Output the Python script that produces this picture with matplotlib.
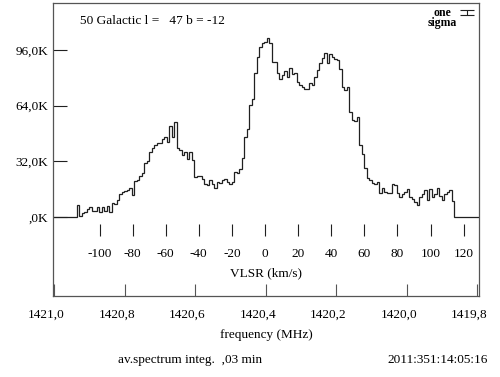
import numpy as np
import matplotlib
matplotlib.use('Agg')
import matplotlib.pyplot as plt
import matplotlib.transforms as mtransforms

plt.rcParams['font.family'] = ['Liberation Serif', 'DejaVu Serif']
plt.rcParams['axes.unicode_minus'] = False

# spectrum: brightness temperature (K) per channel, first channel at v_start
v_start = -113.8
chan_width = 1.51
temps = [6.5, 0.5, 2.0, 2.9, 4.4, 5.8, 3.3, 3.3, 5.8, 2.9,
         5.8, 3.2, 6.3, 2.9, 8.1, 7.2, 9.8, 13.0, 14.4, 15.0,
         15.4, 16.5, 12.5, 20.5, 21.1, 23.4, 25.0, 30.7, 32.3, 37.4,
         39.3, 41.3, 42.5, 42.5, 45.0, 46.0, 43.0, 52.2, 46.0, 54.7,
         39.4, 38.6, 35.8, 37.4, 33.0, 37.2, 32.6, 23.0, 23.2, 23.4,
         21.7, 18.8, 18.5, 21.1, 18.8, 16.3, 20.0, 19.2, 21.0, 22.0,
         20.0, 18.8, 20.0, 25.9, 25.0, 27.7, 33.6, 46.0, 50.7, 64.3,
         68.0, 82.5, 92.0, 97.8, 100.2, 100.5, 102.7, 100.0, 88.8, 88.8,
         82.5, 79.0, 81.6, 84.0, 80.6, 85.4, 82.0, 82.5, 77.7, 75.8,
         74.5, 73.3, 73.3, 76.8, 75.8, 80.6, 84.4, 88.6, 91.1, 94.0,
         88.2, 93.6, 91.7, 90.6, 90.0, 85.0, 74.8, 72.9, 74.5, 60.4,
         55.6, 55.3, 57.2, 41.3, 36.1, 27.8, 22.1, 21.1, 19.6, 19.0,
         20.1, 13.5, 16.7, 14.4, 13.8, 13.5, 18.8, 18.2, 13.5, 11.5,
         13.1, 14.4, 15.7, 11.5, 10.0, 8.6, 6.7, 11.5, 13.1, 15.4,
         9.6, 15.7, 11.5, 13.1, 16.3, 11.9, 9.6, 13.1, 14.4, 15.4,
         9.0]

vlsr_ticks = [-100, -80, -60, -40, -20, 0, 20, 40, 60, 80, 100, 120]
freq_ticks = [1421.0, 1420.8, 1420.6, 1420.4, 1420.2, 1420.0, 1419.8]
temp_ticks = [0, 32, 64, 96]
temp_labels = [',0K', '32,0K', '64,0K', '96,0K']
sigma = 2.9

title = '50 Galactic l =   47 b = -12'
footer_left = 'av.spectrum integ.  ,03 min'
footer_right = '2011:351:14:05:16'

xmin, xmax = -128.1, 129.3
ymin, ymax = -45.6, 123.0


def f2v(f):
    return (1420.4023 - f) / 0.004695


fig = plt.figure(figsize=(5.0, 3.77), dpi=100)
ax = fig.add_axes([0.106, 0.2149, 0.852, 0.7772])

edges = v_start + chan_width * np.arange(len(temps) + 1)
all_edges = np.concatenate([[xmin], edges, [xmax]])
all_vals = np.concatenate([[0.0], temps, [0.0]])
ax.stairs(all_vals, all_edges, baseline=None, color='#202020', lw=0.9)

ax.set_xlim(xmin, xmax)
ax.set_ylim(ymin, ymax)

for s in ax.spines.values():
    s.set_color('#555555')
    s.set_linewidth(0.9)

ax.set_yticks(temp_ticks, labels=temp_labels)
ax.tick_params(axis='y', direction='in', length=10, width=0.8, pad=3.5,
               labelsize=9.5, color='#202020')

# frequency axis on the bottom frame line (labels sit a bit left of ticks)
ax.set_xticks([f2v(f) for f in freq_ticks],
              labels=[f'{f:.1f}'.replace('.', ',') for f in freq_ticks])
ax.tick_params(axis='x', direction='in', length=9, width=0.8, pad=9,
               labelsize=9.5, color='#555555')
shift = mtransforms.ScaledTranslation(-0.08, 0, fig.dpi_scale_trans)
for lab in ax.get_xticklabels():
    lab.set_transform(lab.get_transform() + shift)
ax.set_xlabel('frequency (MHz)', fontsize=9.5, labelpad=6)

# VLSR axis floating inside the frame
sec = ax.secondary_xaxis(0.2235)
sec.spines['bottom'].set_visible(False)
sec.set_xticks(vlsr_ticks, labels=[str(v) for v in vlsr_ticks])
sec.tick_params(axis='x', direction='inout', length=8, width=0.8, pad=8.5,
                labelsize=9.5, color='#202020')
sec.set_xlabel('VLSR (km/s)', fontsize=9.5, labelpad=5)

ax.text(0.064, 0.94, title, transform=ax.transAxes, fontsize=9.6,
        ha='left', va='center')

# one sigma marker
ax.text(0.913, 0.987, 'one\nsigma', transform=ax.transAxes, fontsize=8.5,
        ha='center', va='top', multialignment='center', linespacing=0.8,
        fontweight='bold')
ax.errorbar([122.0], [117.5], yerr=[sigma / 2], color='#202020', lw=0.8,
            capsize=5, capthick=0.8, clip_on=False)

fig.text(0.38, 0.045, footer_left, fontsize=9.5, ha='center', va='center')
fig.text(0.976, 0.045, footer_right, fontsize=9.5, ha='right', va='center')

fig.savefig('out.png', dpi=100, facecolor='white')
